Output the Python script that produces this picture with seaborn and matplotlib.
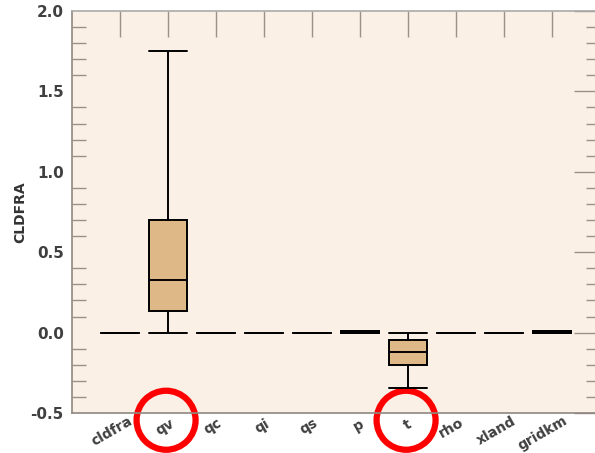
import numpy as np
import pandas as pd
import seaborn as sns
import matplotlib
matplotlib.use("Agg")
import matplotlib.pyplot as plt
from matplotlib.patches import Ellipse
from matplotlib.ticker import MultipleLocator
from matplotlib.transforms import ScaledTranslation

# ---- data (five-number summaries) ----
categories = ["cldfra", "qv", "qc", "qi", "qs", "p", "t", "rho", "xland", "gridkm"]
mins    = [0.0, 0.0,   0.0, 0.0, 0.0, 0.0,   -0.345, 0.0, 0.0, 0.0]
q1s     = [0.0, 0.135, 0.0, 0.0, 0.0, 0.0,   -0.203, 0.0, 0.0, 0.0]
medians = [0.0, 0.33,  0.0, 0.0, 0.0, 0.006, -0.12,  0.0, 0.0, 0.006]
q3s     = [0.0, 0.70,  0.0, 0.0, 0.0, 0.012, -0.046, 0.0, 0.0, 0.012]
maxs    = [0.0, 1.75,  0.0, 0.0, 0.0, 0.012,  0.0,   0.0, 0.0, 0.012]
highlighted = ["qv", "t"]
ylabel = "CLDFRA"

rows = []
for c, a, b, m, d, e in zip(categories, mins, q1s, medians, q3s, maxs):
    for v in (a, b, m, d, e):
        rows.append({"variable": c, "value": v})
df = pd.DataFrame(rows)

sns.set_style("white")
plt.rcParams["font.family"] = ["DejaVu Sans"]
plt.rcParams["axes.unicode_minus"] = False

fig = plt.figure(figsize=(5.95, 4.53), dpi=100)
ax = fig.add_axes([72 / 595, 1 - 413 / 453, (600 - 72) / 595, (413 - 11) / 453])
ax.set_facecolor("linen")

sns.boxplot(data=df, x="variable", y="value", order=categories, ax=ax,
            color="burlywood", saturation=1, width=0.8, whis=(0, 100),
            linecolor="black", linewidth=1.4, fliersize=0, capwidths=0.8)

ax.set_xlim(-1, 10)
ax.set_ylim(-0.5, 2.0)
ax.yaxis.set_major_locator(MultipleLocator(0.5))
ax.yaxis.set_minor_locator(MultipleLocator(0.1))
ax.set_xlabel("")
ax.set_ylabel(ylabel, fontsize=10, fontweight="bold", color="#333333", labelpad=2)

tick_c = "#9a918a"
ax.tick_params(axis="both", which="major", direction="in", length=19, width=1,
               color=tick_c, top=True, right=True, labelcolor="#404040")
ax.tick_params(axis="y", which="major", labelsize=11, pad=6)
ax.tick_params(axis="x", which="major", labelsize=10, pad=3)
ax.tick_params(axis="y", which="minor", direction="in", length=10, width=1,
               color=tick_c, left=True, right=True)
for lab in ax.get_yticklabels():
    lab.set_fontweight("bold")
for lab in ax.get_xticklabels():
    lab.set_fontweight("bold")
    lab.set_rotation(30)
    lab.set_ha("center")
    lab.set_va("top")
for s in ax.spines.values():
    s.set_color("#8f8882")
    s.set_linewidth(1.2)
ax.spines["top"].set_color("#aaaaaa")

# shift longer rotated labels a little to the left, as in the reference
fig.canvas.draw()
renderer = fig.canvas.get_renderer()
for lab in ax.get_xticklabels():
    w = lab.get_window_extent(renderer).width
    dx = -0.22 * max(w - 10, 0)
    dy = 0.08 * max(w - 10, 0)
    lab.set_transform(lab.get_transform() +
                      ScaledTranslation(dx / 100, dy / 100, fig.dpi_scale_trans))

# red circles around highlighted labels
for name in highlighted:
    i = categories.index(name)
    e = Ellipse((i - 0.04, -0.545), width=59 / 48, height=59 / 160.8,
                fill=False, edgecolor="#ff0000", linewidth=4.5, clip_on=False)
    ax.add_patch(e)

fig.savefig("out.png", dpi=100)
